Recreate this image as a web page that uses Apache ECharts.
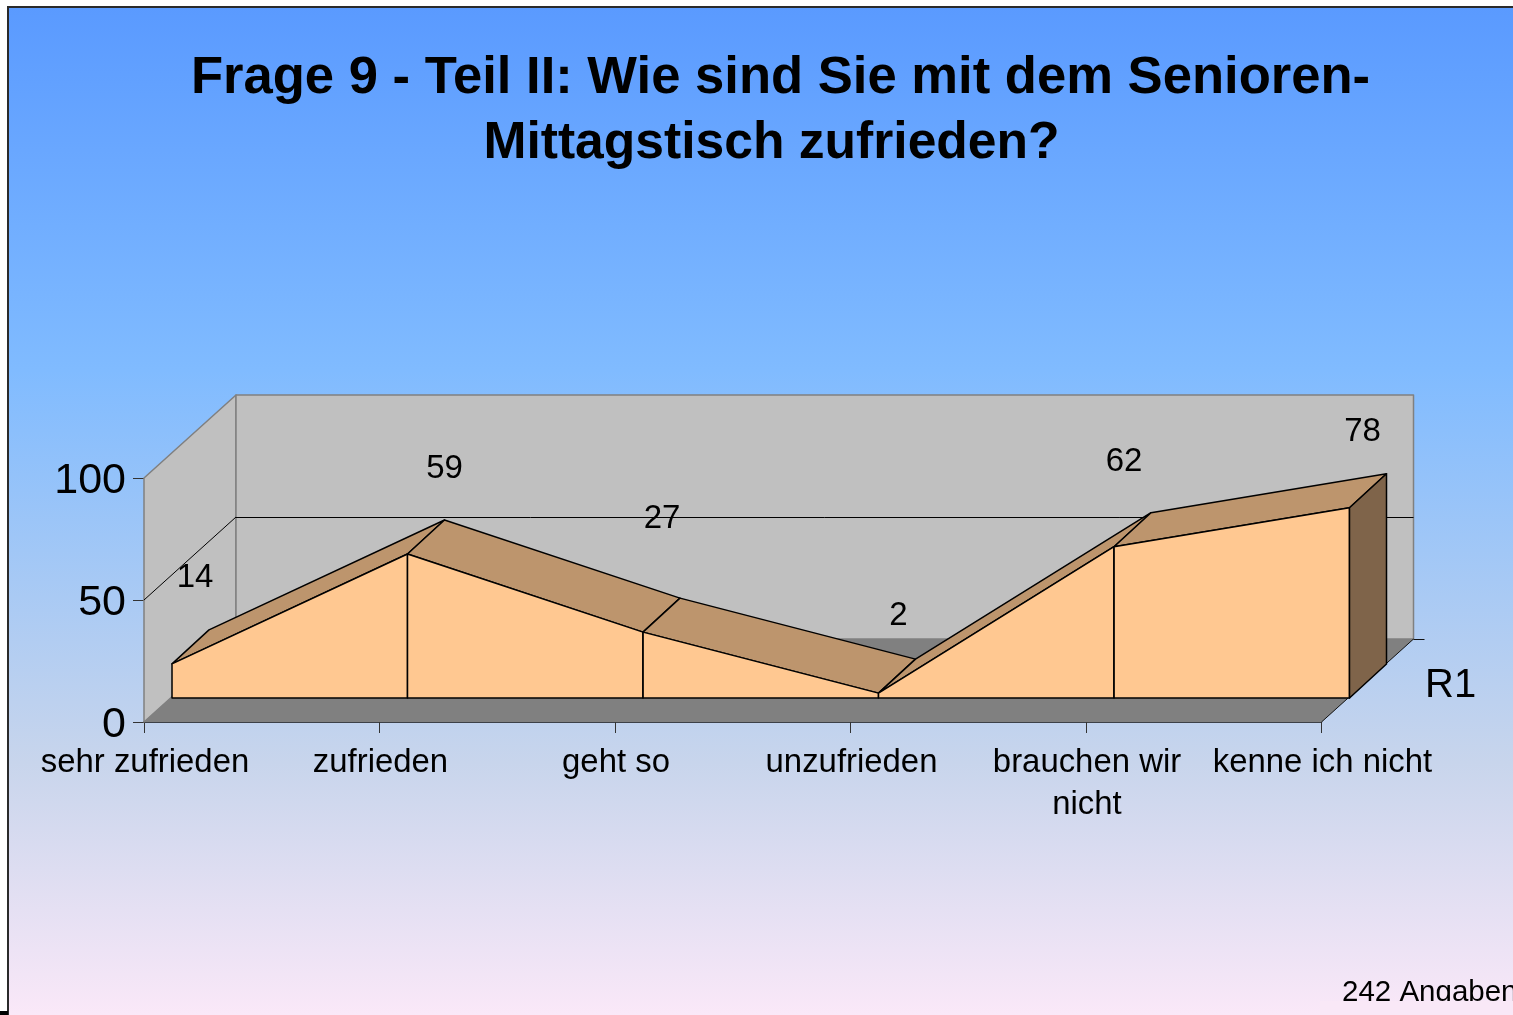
<!DOCTYPE html>
<html>
<head>
<meta charset="utf-8">
<style>
  html, body { margin: 0; padding: 0; background: #fff; }
  #main { width: 1513px; height: 1015px; }
</style>
<script src="https://cdn.jsdelivr.net/npm/echarts@6/dist/echarts.min.js"></script>
</head>
<body>
<div id="main"></div>
<script>
var categories = ['sehr zufrieden', 'zufrieden', 'geht so', 'unzufrieden', 'brauchen wir\nnicht', 'kenne ich nicht'];
var values = [14, 59, 27, 2, 62, 78];
var yTicks = [0, 50, 100];
var seriesName = 'R1';
var titleLines = ['Frage 9 - Teil II: Wie sind Sie mit dem Senioren-', 'Mittagstisch zufrieden?'];
var note = '242 Angaben';

var FONT = '"Liberation Sans", Arial, sans-serif';

// 3d look: depth offsets in px, the library only knows the front plane
var wallDepth = [92, -83];
var areaFront = [28, -24];
var areaBack = [65, -58];
// data labels sit where powerpoint left them, relative to the front point
var labelShift = [[23, -86], [37, -85], [19, -113], [20, -77], [10, -85], [13, -76]];

function shift(p, d) {
  return [p[0] + d[0], p[1] + d[1]];
}

function poly(points, fill, stroke, width) {
  return {
    type: 'polygon',
    shape: { points: points },
    style: { fill: fill, stroke: stroke || 'none', lineWidth: width || 0, lineJoin: 'round' }
  };
}

function line(a, b, color, width) {
  return {
    type: 'polyline',
    shape: { points: [a, b] },
    style: { stroke: color, lineWidth: width, fill: 'none' }
  };
}

function renderWalls(params, api) {
  var o = api.coord([0, 0]);
  var top = api.coord([0, 100]);
  var r = api.coord([5, 0]);
  var rTop = api.coord([5, 100]);
  var mid = api.coord([0, 50]);
  var rMid = api.coord([5, 50]);
  var backMid = shift(mid, wallDepth);
  var backRMid = shift(rMid, wallDepth);
  var backR = shift(r, wallDepth);
  return {
    type: 'group',
    children: [
      poly([o, top, shift(top, wallDepth), shift(o, wallDepth)], '#c0c0c0', '#808080', 1.5),
      poly([shift(o, wallDepth), shift(top, wallDepth), shift(rTop, wallDepth), backR], '#c0c0c0', '#808080', 1.5),
      poly([o, shift(o, wallDepth), backR, r], '#808080'),
      line(mid, backMid, '#000', 1),
      // half pixel so the 1px rule stays crisp
      line([backMid[0], backMid[1] + 0.5], [backRMid[0], backRMid[1] + 0.5], '#000', 1),
      line(r, backR, '#111', 1),
      line([backR[0], backR[1] + 0.5], [backR[0] + 11, backR[1] + 0.5], '#111', 1)
    ]
  };
}

function renderArea(params, api) {
  var i = api.value(0);
  var children = [];
  var p = api.coord([i, api.value(1)]);
  var base = api.coord([i, 0]);
  if (i < values.length - 1) {
    var n = api.coord([i + 1, values[i + 1]]);
    var nBase = api.coord([i + 1, 0]);
    children.push(poly([shift(p, areaFront), shift(p, areaBack), shift(n, areaBack), shift(n, areaFront)], '#bd956d', '#000', 1.5));
    children.push(poly([shift(p, areaFront), shift(n, areaFront), shift(nBase, areaFront), shift(base, areaFront)], '#ffc891', '#000', 1.5));
  } else {
    children.push(poly([shift(p, areaFront), shift(p, areaBack), shift(base, areaBack), shift(base, areaFront)], '#7f644a', '#000', 1.5));
  }
  if (i > 0 && i < values.length - 1) {
    children.push(line(shift(p, areaFront), shift(base, areaFront), '#000', 0.8));
  }
  return { type: 'group', children: children };
}

function renderLabels(params, api) {
  var i = api.value(0);
  var p = shift(api.coord([i, api.value(1)]), areaFront);
  return {
    type: 'text',
    style: {
      x: p[0] + labelShift[i][0],
      y: p[1] + labelShift[i][1],
      text: String(api.value(1)),
      fill: '#000',
      font: '33px ' + FONT,
      align: 'center',
      verticalAlign: 'middle'
    }
  };
}

var chartDom = document.getElementById('main');
var chart = echarts.init(chartDom, null, { renderer: 'canvas' });

var pointData = values.map(function (v, i) { return [i, v]; });

var option = {
  animation: false,
  backgroundColor: '#fff',
  title: [
    {
      text: titleLines[0],
      left: 775.5,
      top: 44,
      textAlign: 'center',
      textStyle: { fontFamily: FONT, fontWeight: 'bold', fontSize: 52.6, color: '#000', lineHeight: 58 }
    },
    {
      text: titleLines[1],
      left: 766.5,
      top: 110,
      textAlign: 'center',
      textStyle: { fontFamily: FONT, fontWeight: 'bold', fontSize: 51.6, color: '#000', lineHeight: 58 }
    }
  ],
  grid: { left: 144, right: 191.5, top: 478, bottom: 293 },
  xAxis: {
    type: 'category',
    data: categories,
    boundaryGap: false,
    axisLine: { show: true, lineStyle: { color: '#111', width: 1.5 } },
    axisTick: { show: true, length: 11, alignWithLabel: true, lineStyle: { color: '#333', width: 1 } },
    axisLabel: {
      interval: 0,
      margin: 20,
      padding: [0, 0, 0, 2],
      color: '#000',
      fontFamily: FONT,
      fontSize: 32.9,
      lineHeight: 42
    }
  },
  yAxis: {
    type: 'value',
    min: yTicks[0],
    max: yTicks[2],
    interval: yTicks[1],
    axisLine: { show: true, lineStyle: { color: '#444', width: 1 } },
    axisTick: { show: true, length: 11, lineStyle: { color: '#333', width: 1 } },
    splitLine: { show: false },
    axisLabel: {
      margin: 18,
      formatter: '{v|{value}}',
      // labels hang a little below their ticks
      rich: { v: { padding: [7, 0, 0, 0], color: '#000', fontFamily: FONT, fontSize: 43 } }
    }
  },
  graphic: [
    {
      type: 'rect',
      z: -10,
      shape: { x: 8, y: 7, width: 1505, height: 1008 },
      style: {
        fill: new echarts.graphic.LinearGradient(0, 0, 0, 1, [
          { offset: 0, color: '#5a9aff' },
          { offset: 0.36, color: '#80bbff' },
          { offset: 0.75, color: '#c8d5ec' },
          { offset: 1, color: '#fae8f8' }
        ])
      }
    },
    { type: 'rect', z: -9, shape: { x: 7, y: 6, width: 1506, height: 2 }, style: { fill: '#2a2a2a' } },
    { type: 'rect', z: -9, shape: { x: 7, y: 6, width: 2, height: 1009 }, style: { fill: '#2a2a2a' } },
    { type: 'rect', z: -9, shape: { x: 0, y: 1011, width: 8, height: 4 }, style: { fill: '#000' } },
    {
      type: 'text',
      z: 10,
      style: { x: 1425, y: 686, text: seriesName, fill: '#000', font: '40px ' + FONT, align: 'left', verticalAlign: 'middle' }
    },
    {
      type: 'text',
      z: 10,
      style: { x: 1342, y: 1008, text: note, fill: '#000', font: '29.5px ' + FONT, align: 'left', verticalAlign: 'bottom' }
    },
    // the footnote is cut off at the slide edge in the original
    { type: 'rect', z: 11, shape: { x: 1320, y: 1001, width: 193, height: 14 }, style: { fill: '#f9e8f7' } }
  ],
  series: [
    {
      type: 'custom',
      name: 'walls',
      z: 1,
      silent: true,
      renderItem: renderWalls,
      encode: { x: 0, y: 1 },
      data: [[0, 0]]
    },
    {
      type: 'custom',
      name: seriesName,
      z: 3,
      renderItem: renderArea,
      encode: { x: 0, y: 1 },
      data: pointData
    },
    {
      type: 'custom',
      name: 'labels',
      z: 4,
      silent: true,
      renderItem: renderLabels,
      encode: { x: 0, y: 1 },
      data: pointData
    }
  ]
};

chart.setOption(option);

window.addEventListener('resize', function () {
  chart.resize();
});
</script>
</body>
</html>
